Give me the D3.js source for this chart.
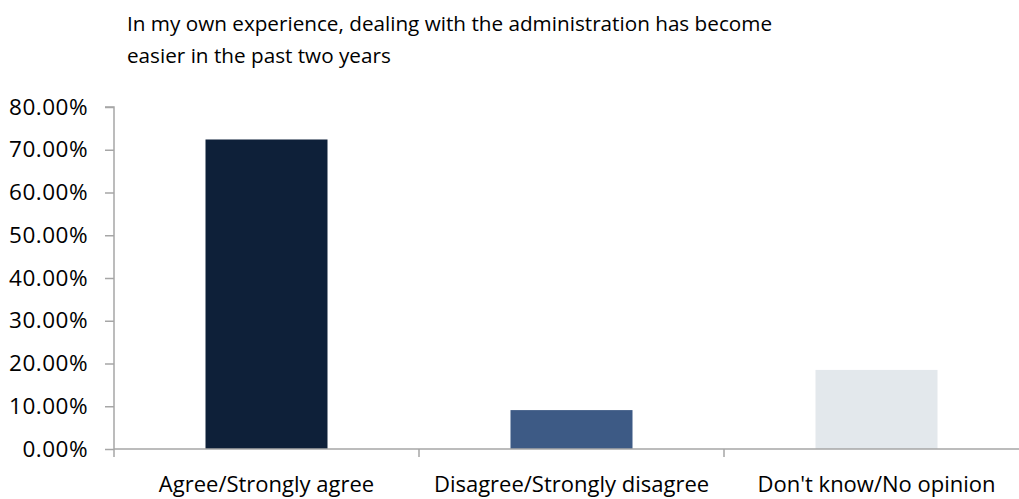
<!DOCTYPE html>
<html>
<head>
<meta charset="utf-8">
<script src="https://cdn.jsdelivr.net/npm/d3@7"></script>
<style>
  html, body { margin: 0; padding: 0; background: #fff; }
  svg { display: block; }
  text { fill: #000; font-family: "Open Sans", "Noto Sans", sans-serif; }
</style>
</head>
<body>
<svg id="chart" width="1019" height="499"></svg>
<script>
// Survey responses
const categories = ["Agree/Strongly agree", "Disagree/Strongly disagree", "Don't know/No opinion"];
const shares = [72.4, 9.1, 18.5];
const barColors = ["#0e2039", "#3d5a85", "#e3e8ec"];
const yTicks = [0, 10, 20, 30, 40, 50, 60, 70, 80];
const titleLines = [
  "In my own experience, dealing with the administration has become",
  "easier in the past two years"
];

const svg = d3.select("#chart");
const axisColor = "#a6a6a6";

const x0 = 114, x1 = 1029, yTop = 107, yBase = 449;

const x = d3.scaleBand()
  .domain(categories)
  .range([x0, x1])
  .paddingInner(0.6)
  .paddingOuter(0.3);

const xEdges = d3.scaleBand().domain(categories).range([x0, x1]).padding(0);

const y = d3.scaleLinear().domain([0, 80]).range([yBase, yTop]);

// Title
svg.append("g").selectAll("text")
  .data(titleLines)
  .join("text")
  .attr("x", 127)
  .attr("y", (d, i) => 31 + i * 31.5)
  .style("font-size", "20.7px")
  .text(d => d);

// Bars
svg.append("g").selectAll("rect")
  .data(shares)
  .join("rect")
  .attr("x", (d, i) => x(categories[i]))
  .attr("width", x.bandwidth())
  .attr("y", d => y(d))
  .attr("height", d => yBase - y(d))
  .attr("fill", (d, i) => barColors[i]);

// Y axis
const yAxis = svg.append("g").attr("transform", `translate(${x0},0)`)
  .call(d3.axisLeft(y).tickValues(yTicks).tickSize(9).tickPadding(17)
    .tickFormat(d => d3.format(".2f")(d) + "%"));
yAxis.select(".domain").attr("stroke", axisColor).attr("stroke-width", 1.5)
  .attr("d", `M-9,${yTop}H0V${yBase}`);
yAxis.selectAll(".tick line").attr("stroke", axisColor).attr("stroke-width", 1.5);
yAxis.selectAll(".tick text")
  .style("font-size", "22.5px").style("letter-spacing", "0.5px").attr("fill", "#000");

// X axis
const xAxis = svg.append("g").attr("transform", `translate(0,${yBase})`)
  .call(d3.axisBottom(xEdges).tickSize(0).tickPadding(27));
xAxis.select(".domain").attr("stroke", axisColor).attr("stroke-width", 1.5)
  .attr("d", `M${x0},0H${x1}`);
xAxis.selectAll(".tick text").style("font-size", "22px").attr("fill", "#000");

// Category boundary ticks
svg.append("g").selectAll("line")
  .data(categories)
  .join("line")
  .attr("x1", d => xEdges(d)).attr("x2", d => xEdges(d))
  .attr("y1", yBase).attr("y2", yBase + 8)
  .attr("stroke", axisColor).attr("stroke-width", 1.5);
</script>
</body>
</html>
